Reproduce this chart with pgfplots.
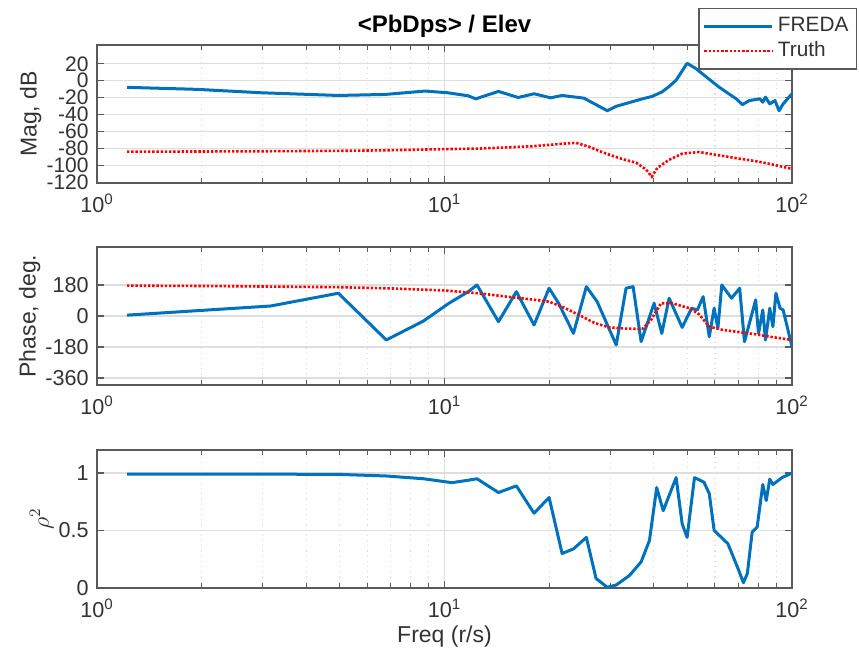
\documentclass[border=0pt]{standalone}
\usepackage{pgfplots}
\pgfplotsset{compat=1.18}
\usepackage{fontspec}
\setmainfont{Liberation Sans}
\definecolor{fblue}{RGB}{0,114,189}
\definecolor{axgray}{RGB}{90,90,90}
\definecolor{grd}{RGB}{222,222,222}
\pgfplotsset{
  myax/.style={
    scale only axis, width=347.5pt, height=69pt,
    xmin=1, xmax=100,
    xtick={1,10,100},
    xticklabels={10\textsuperscript{0},10\textsuperscript{1},10\textsuperscript{2}},
    minor xtick={2,3,4,5,6,7,8,9,20,30,40,50,60,70,80,90},
    tick align=inside, tick pos=both,
    axis line style={axgray, line width=0.9pt},
    major tick style={axgray, line width=0.6pt}, minor tick style={axgray, line width=0.5pt},
    major tick length=3.5pt, minor tick length=2.5pt,
    xmajorgrids, ymajorgrids, xminorgrids,
    major grid style={grd, line width=0.6pt},
    minor grid style={grd, line width=0.6pt, dotted},
    tick label style={font=\fontsize{10.8}{11}\selectfont, text=black!80},
    yticklabel style={inner xsep=4pt, inner ysep=0pt},
    label style={font=\fontsize{11.5}{12}\selectfont, text=black!80},
    ylabel style={yshift=-5pt},
    xticklabel style={yshift=-2pt},
  },
  fr/.style={fblue, line width=1.5pt, line join=round},
  tr/.style={red, line width=1.3pt, dash pattern=on 1.2pt off 0.9pt},
}
\begin{document}
\begin{tikzpicture}
\useasboundingbox (0,0) rectangle (429.5pt,332.5pt);
% ---------- Magnitude ----------
\begin{semilogxaxis}[myax, at={(48.5pt,241pt)}, anchor=south west,
  ymin=-121, ymax=42,
  ytick={-120,-100,-80,-60,-40,-20,0,20},
  yticklabels={-120,-100,-80,-60,-40,-20,0,20},
  yticklabel style={font=\fontsize{10.5}{11}\selectfont, text height=7.4pt, text depth=0pt},
  ylabel={Mag, dB},
  title={\textbf{<PbDps> / Elev}},
  title style={font=\fontsize{12}{13}\selectfont, yshift=-6pt},
  legend style={at={(1.0935,1.268)}, anchor=north east, draw=axgray, line width=0.6pt,
    font=\fontsize{10.4}{12}\selectfont, text=black!80, row sep=-0.5pt, inner xsep=2pt, inner ysep=2.5pt},
  legend cell align=left,
  legend image code/.code={\draw[#1] (0pt,0pt) -- (34pt,0pt);},
]
\addplot[fr] coordinates {
(1.22,-8) (1.94,-10.4) (2.96,-14.4) (4.95,-17.6) (6.75,-16.4) (8.8,-12.4) (10.2,-14.4)
(11.7,-18) (12.3,-21.6) (14.3,-12.8) (16.3,-20) (18.1,-15.6) (20.2,-20.4) (21.8,-17.6)
(25.2,-20.8) (29.4,-35.6) (31.2,-30.4) (37.1,-21.6) (39.5,-18.8) (42.2,-13.6) (44.3,-7)
(46.4,0.4) (49.9,20.4) (52.8,14.4) (61.6,-7.6) (69.1,-21.6) (72,-28.4) (75.4,-23.6)
(80.9,-21.6) (82.4,-25.6) (83.9,-19.6) (86.3,-27.6) (89.3,-23.6) (91.8,-35.6) (94.3,-27.6) (100,-15.6)
};
\addlegendentry{FREDA}
\addplot[tr] coordinates {
(1.22,-84) (2,-83.8) (3,-83.5) (5,-83) (7,-82.3) (10,-81) (12.5,-80.4) (15,-79) (18,-77.5)
(20,-76) (22,-74.5) (23.9,-73.6) (26,-78) (28.6,-85) (31,-90) (33.3,-94) (35.6,-97) (38,-105)
(39.5,-113.6) (41,-103) (44.3,-93.6) (48.3,-86.4) (54,-84.4) (60,-87.5) (69,-91.6) (78,-95)
(86.3,-98.4) (100,-104.4)
};
\addlegendentry{Truth}
\end{semilogxaxis}
% ---------- Phase ----------
\begin{semilogxaxis}[myax, at={(48.5pt,140pt)}, anchor=south west,
  ymin=-400, ymax=400,
  ytick={-360,-180,0,180},
  yticklabels={-360,-180,0,180},
  ylabel={Phase, deg.},
]
\addplot[fr] coordinates {
(1.22,5) (3.16,58) (4.95,132) (6.8,-139) (8.7,-29) (10.3,74) (11.7,141) (12.4,180)
(14.3,-33) (16.1,141) (18.1,-52) (20,161) (21.3,74) (23.5,-101) (25.6,170) (27.5,83)
(31.2,-168) (33.3,161) (34.9,170) (36.8,-149) (40.1,74) (42.2,-101) (44.3,103) (48.3,-66)
(51.4,45) (53.4,35) (55.5,112) (57.8,-120) (59.7,45) (61.2,-71) (62.8,180) (67,103)
(70.7,161) (73,-149) (78.6,93) (80.1,-101) (82.4,35) (83.9,-139) (86.3,45) (88.1,-62)
(89.9,132) (92.4,45) (94.3,35) (100,-178)
};
\addplot[tr] coordinates {
(1.22,176) (2,174) (3,171) (4.95,167) (7,160) (10,148) (12.5,132) (15.6,109) (18,95)
(20,83) (22,50) (24.4,6) (27,-40) (29.8,-66) (33,-73) (37.1,-75) (39.3,-23) (42,74)
(45.2,74) (50.7,45) (54,10) (57.8,-62) (63,-80) (69,-91) (78,-105) (86.3,-120) (100,-139)
};
\end{semilogxaxis}
% ---------- Coherence ----------
\begin{semilogxaxis}[myax, at={(48.5pt,38.5pt)}, anchor=south west,
  ymin=0, ymax=1.2,
  ytick={0,0.5,1},
  yticklabels={0,0.5,1},
  ylabel={$\rho^2$},
  xlabel={Freq (r/s)},
  xlabel style={yshift=3pt},
]
\addplot[fr] coordinates {
(1.22,0.99) (2,0.99) (3,0.99) (4.95,0.988) (6.8,0.974) (8.7,0.95) (10.5,0.916) (11.7,0.937)
(12.4,0.95) (14.3,0.83) (16.1,0.888) (18.1,0.65) (20,0.787) (21.8,0.30) (23.5,0.34)
(25.6,0.44) (27.3,0.083) (29.4,0.006) (31.2,0.026) (34.1,0.11) (36.8,0.227) (38.9,0.414)
(40.8,0.873) (42.6,0.672) (46.4,0.96) (48.3,0.558) (49.9,0.44) (52.4,0.96) (55.8,0.92)
(57.8,0.82) (59.7,0.5) (65.4,0.385) (69.7,0.18) (72.5,0.046) (74.4,0.127) (76.8,0.485)
(79.4,0.53) (82.4,0.9) (84.3,0.76) (86.3,0.946) (88.1,0.90) (93.6,0.96) (100,1.0)
};
\end{semilogxaxis}
\end{tikzpicture}
\end{document}
